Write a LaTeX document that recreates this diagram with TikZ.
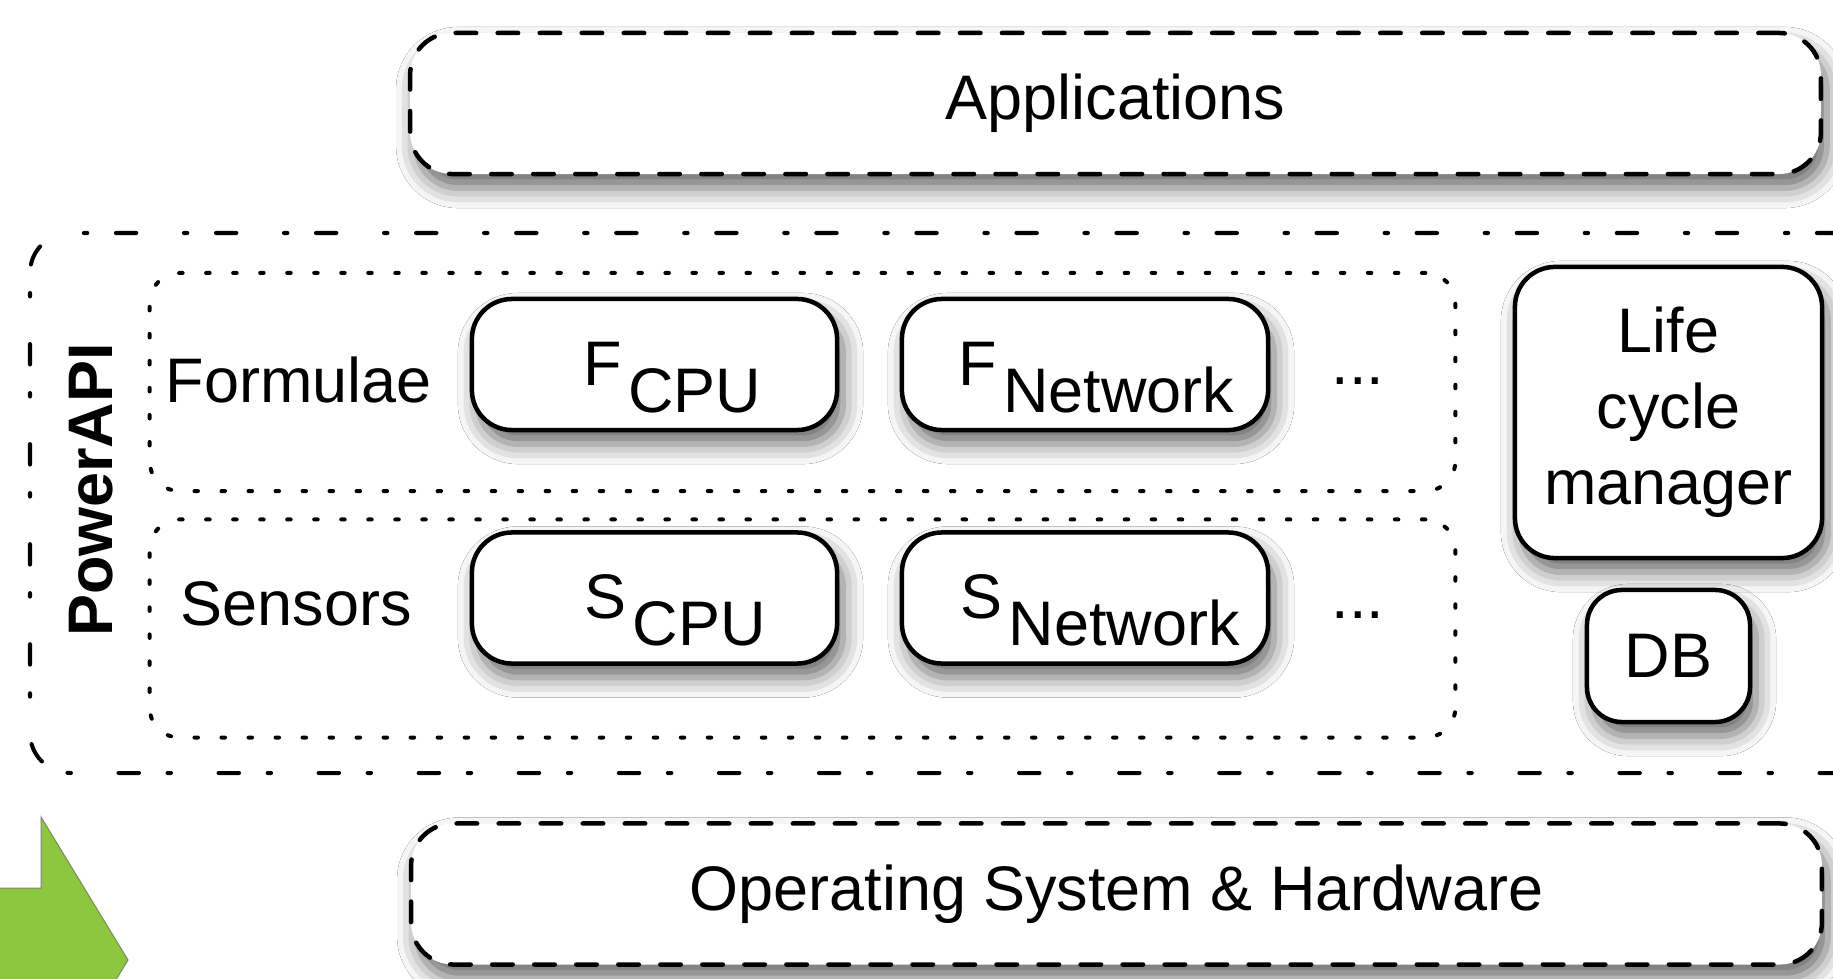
\documentclass[tikz,border=0pt]{standalone}
\usepackage{fontspec}
\setmainfont{Liberation Sans}
\usetikzlibrary{shadows.blur}
\definecolor{arrowgreen}{RGB}{141,198,63}
\newcommand{\sublbl}[2]{#1\hspace{0.06cm}\raisebox{-0.27cm}{#2}}
\tikzset{
  txt/.style={font=\fontsize{17.9pt}{21.6pt}\selectfont, inner sep=0pt},
  softshadow/.style={blur shadow={shadow xshift=0.06cm, shadow yshift=-0.14cm, shadow blur radius=0.2cm, shadow opacity=60}},
  layerbox/.style={txt, draw, fill=white, softshadow, line width=0.045cm, rounded corners=0.42cm, line cap=round, dash pattern=on 0.205cm off 0.215cm, minimum width=14.1cm, minimum height=1.41cm},
  groupbox/.style={draw, line width=0.04cm, rounded corners=0.3cm, line cap=round, dash pattern=on 0.035cm off 0.235cm, minimum width=13.05cm, minimum height=2.18cm},
  modbox/.style={txt, draw, fill=white, softshadow, line width=0.045cm, rounded corners=0.4cm, align=center},
  apiline/.style={line width=0.04cm, rounded corners=0.4cm, line cap=round, dash pattern=on 0.205cm off 0.475cm on 0.035cm off 0.285cm}
}
\begin{document}
\begin{tikzpicture}[x=0.01cm, y=-0.01cm]
\useasboundingbox (0,0) rectangle (1833,979);
\fill[white] (0,0) rectangle (1833,979);
% layers
\node[layerbox] (apps) at (1115.5,103.5) {Applications};
\node[layerbox] (os) at (1116.5,894) {Operating System \& Hardware};
\draw[apiline] (1840,773) -- (30,773) -- (30,233) -- (1840,233);
\node[txt, font=\fontsize{17.9pt}{21.6pt}\selectfont\bfseries, rotate=90] (api) at (91,490) {PowerAPI};
% formulae and sensors
\node[groupbox] (formulae) at (802.5,382) {};
\node[groupbox] (sensors) at (802.5,628.5) {};
\node[txt, anchor=base west] (formlbl) at (165,402) {Formulae};
\node[txt, anchor=base west] (senslbl) at (180,625) {Sensors};
\node[modbox, minimum width=3.65cm, minimum height=1.31cm] (fcpu) at (654.5,364.5) {};
\node[modbox, minimum width=3.66cm, minimum height=1.31cm] (fnet) at (1085,364.5) {};
\node[modbox, minimum width=3.65cm, minimum height=1.31cm] (scpu) at (654.5,598) {};
\node[modbox, minimum width=3.66cm, minimum height=1.31cm] (snet) at (1085,598) {};
\node[txt, anchor=base west] (fcpulbl) at (583,385) {\sublbl{F}{CPU}};
\node[txt, anchor=base west] (fnetlbl) at (958,385) {\sublbl{F}{Network}};
\node[txt, anchor=base west] (scpulbl) at (584,618) {\sublbl{S}{CPU}};
\node[txt, anchor=base west] (snetlbl) at (960,618) {\sublbl{S}{Network}};
\node[txt, anchor=base west] (fdots) at (1331,384) {...};
\node[txt, anchor=base west] (sdots) at (1331,618) {...};
% right column
\node[modbox, minimum width=3.07cm, minimum height=2.91cm] (lcm) at (1668.5,412.5) {Life\\cycle\\manager};
\node[modbox, rounded corners=0.35cm, minimum width=1.63cm, minimum height=1.32cm] (db) at (1668.5,656) {DB};
% green arrow
\begin{scope}
\clip (0,0) rectangle (1833,979);
\draw[gray, fill=arrowgreen, line width=0.01cm] (-10,888) -- (41,888) -- (41,817) -- (128,960) -- (41,1103) -- (41,1032) -- (-10,1032) -- cycle;
\end{scope}
\end{tikzpicture}
\end{document}
